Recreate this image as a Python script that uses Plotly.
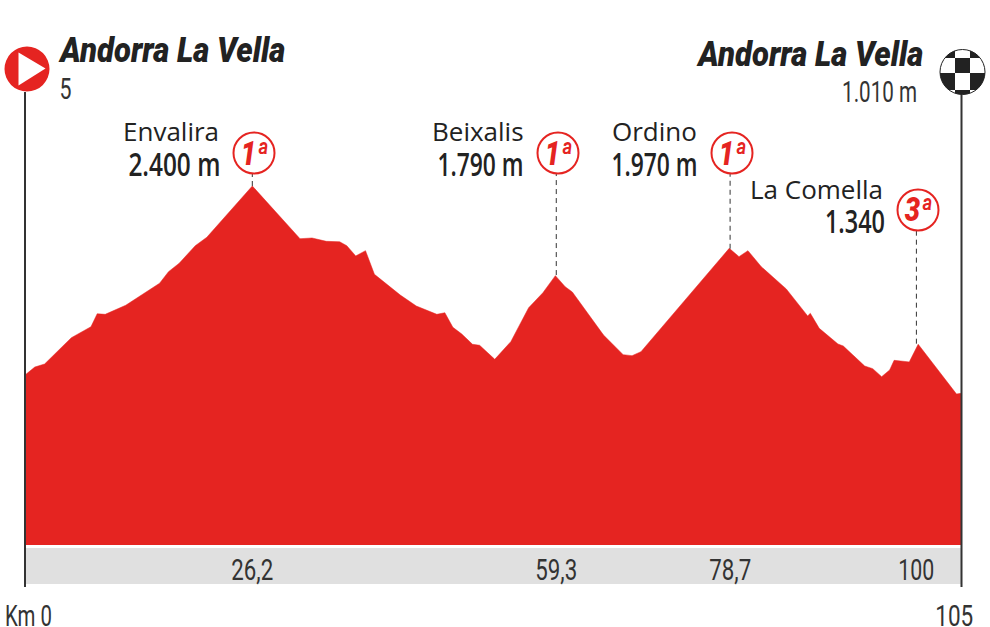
import json
import numpy as np
import plotly.graph_objects as go

km = [0, 1.1, 2.2, 5.2, 7.4, 8.1, 9.0, 11.3, 15.1, 16.1, 17.3, 19.1, 20.4, 25.5, 30.85, 32.2, 33.8, 35.3, 36.1, 37.1,
      38.2, 39.2, 42.1, 43.9, 46.2, 47.1, 48.0, 49.0, 50.2, 51.0, 52.7, 54.5, 56.5, 58.1, 59.5, 60.6, 61.4, 64.9,
      67.1, 68.1, 69.1, 79.0, 80.1, 81.1, 82.6, 85.4, 87.8, 88.1, 89.1, 91.2, 91.8, 94.2, 95.1, 96.1, 97.0, 97.5,
      99.2, 100.2, 104.5, 105]
alt = [1105, 1160, 1181, 1361, 1436, 1525, 1521, 1583, 1734, 1813, 1871, 1991, 2049, 2400, 2039, 2044, 2021, 2018, 1991, 1921,
       1957, 1795, 1653, 1578, 1521, 1532, 1432, 1386, 1316, 1309, 1213, 1334, 1566, 1669, 1786, 1710, 1674, 1379,
       1245, 1238, 1265, 1973, 1916, 1957, 1847, 1695, 1510, 1528, 1425, 1318, 1304, 1167, 1149, 1094, 1140, 1206,
       1195, 1316, 975, 980]
climb_names = ["Envalira", "Beixalis", "Ordino", "La Comella"]
climb_heights = ["2.400 m", "1.790 m", "1.970 m", "1.340"]
climb_cats = ["1ª", "1ª", "1ª", "3ª"]
climb_km = [25.5, 59.6, 79.1, 100.0]
climb_alt = [2400, 1790, 1970, 1320]
km_labels = ["26,2", "59,3", "78,7", "100"]
km_label_pos = [25.5, 59.6, 79.1, 100.0]

W, H = 990, 627
RED, DARK, GREY = "#e52421", "#222222", "#e0e0e0"
COND = "Roboto"
OPEN = "Open Sans"
PX_KM = 8.914
PX_M = 0.146
to_km = lambda x: (x - 25) / PX_KM
to_alt = lambda y: 2400 - (y - 186) / PX_M
px = lambda x: x / W
py = lambda y: 1 - y / H

fig = go.Figure()
base = to_alt(545)
fig.add_trace(go.Scatter(x=[0, 105], y=[base, base], mode="lines", line=dict(width=0, color=RED),
                         hoverinfo="skip", showlegend=False))
fig.add_trace(go.Scatter(x=km, y=alt, mode="lines", line=dict(width=0.5, color=RED), fill="tonexty",
                         fillcolor=RED, showlegend=False))

shapes = []
shapes.append(dict(type="rect", xref="x", yref="y", x0=0, x1=105, y0=to_alt(584), y1=to_alt(548),
                   fillcolor=GREY, line_width=0, layer="below"))
for x in (25, 961.5):
    shapes.append(dict(type="line", xref="paper", yref="paper", x0=px(x), x1=px(x), y0=py(92), y1=py(587),
                       line=dict(color="#333333", width=2)))

badges = [(254, 153), (558, 153), (732, 153), (918, 210)]
for (bx, by), k, a in zip(badges, climb_km, climb_alt):
    shapes.append(dict(type="line", xref="x", yref="y", x0=k, x1=k, y0=a, y1=to_alt(by + 20),
                       line=dict(color="#333333", width=1, dash="5px,4px")))


def circle_shape(cx, cy, r, fill, line_color=None, lw=0):
    return dict(type="circle", xref="paper", yref="paper", x0=px(cx - r), x1=px(cx + r), y0=py(cy + r), y1=py(cy - r),
                fillcolor=fill, line=dict(color=line_color or fill, width=lw))


for bx, by in badges:
    shapes.append(circle_shape(bx, by, 20.5, "white", RED, 2))

shapes.append(circle_shape(27, 69, 22.5, RED))
shapes.append(dict(type="path", xref="paper", yref="paper",
                   path=f"M{px(18.5)},{py(52.5)} L{px(45.5)},{py(68.5)} L{px(18.5)},{py(85.5)} Z",
                   fillcolor="white", line_width=0))


def clipped_rect(x0, x1, y0, y1, cx, cy, r):
    t = np.linspace(0, 2 * np.pi, 96, endpoint=False)
    pts = [(cx + r * np.cos(a), cy + r * np.sin(a)) for a in t]
    def clip(poly, inside, inter):
        out = []
        for i, p in enumerate(poly):
            q = poly[i - 1]
            if inside(p):
                if not inside(q):
                    out.append(inter(q, p))
                out.append(p)
            elif inside(q):
                out.append(inter(q, p))
        return out
    def ix(v):
        return lambda a, b: (v, a[1] + (b[1] - a[1]) * (v - a[0]) / (b[0] - a[0]))
    def iy(v):
        return lambda a, b: (a[0] + (b[0] - a[0]) * (v - a[1]) / (b[1] - a[1]), v)
    pts = clip(pts, lambda p: p[0] >= x0, ix(x0))
    pts = clip(pts, lambda p: p[0] <= x1, ix(x1))
    pts = clip(pts, lambda p: p[1] >= y0, iy(y0))
    pts = clip(pts, lambda p: p[1] <= y1, iy(y1))
    return "M" + " L".join(f"{px(a):.5f},{py(b):.5f}" for a, b in pts) + " Z"


FX, FY, FR = 962.5, 72, 22.5
shapes.append(circle_shape(FX, FY, FR, "white", DARK, 1))
for r_ in [(940, 955, 49, 58), (970, 986, 49, 58), (955, 970, 58, 73), (940, 955, 73, 90), (970, 986, 73, 90),
           (955, 970, 90, 95)]:
    shapes.append(dict(type="path", xref="paper", yref="paper", path=clipped_rect(*r_, FX, FY, FR),
                       fillcolor=DARK, line_width=0))

ann = []
text_widths = {}


def text(x, y, s, size, font=COND, color=DARK, weight=400, style="normal", width=None, xref="paper"):
    ann.append(dict(xref=xref, yref="paper", x=px(x) if xref == "paper" else x, y=py(y), text=s, showarrow=False,
                    xanchor="center", yanchor="middle",
                    font=dict(family=font, size=size, color=color, weight=weight, style=style)))
    if width:
        text_widths[s] = width


text(171.5, 50, "Andorra La Vella", 35, weight=900, style="italic", width=225)
text(809, 54, "Andorra La Vella", 35, weight=900, style="italic", width=225)
text(65, 88, "5", 30, color="#333333", width=12)
text(879.5, 92, "1.010 m", 30, color="#333333", width=75)

name_c = [(171, 131), (477.5, 131), (654, 131), (816.5, 189)]
name_fs = 26
height_c = [(174, 163), (480.5, 163), (654.5, 163), (854.5, 220)]
height_w = [92, 86, 86, 60]
for n, h, nc, hc, hw in zip(climb_names, climb_heights, name_c, height_c, height_w):
    text(nc[0], nc[1], n, name_fs, OPEN, "#222222")
    text(hc[0], hc[1], h, 32, OPEN, "#222222", weight=600, width=hw)
for (bx, by), c in zip(badges, climb_cats):
    text(bx, by, c, 33, COND, RED, weight=900, style="italic", width=27)
for k, s, w in zip(km_label_pos, km_labels, [42, 42, 42, 36]):
    text(k, 569, s, 30, color="#333333", width=w, xref="x")
text(28.5, 615, "Km 0", 30, color="#333333", width=47)
text(954.5, 615, "105", 30, color="#333333", width=38)

fig.update_layout(width=W, height=H, margin=dict(l=0, r=0, t=0, b=0), paper_bgcolor="white", plot_bgcolor="white",
                  showlegend=False, shapes=shapes, annotations=ann,
                  xaxis=dict(range=[to_km(0), to_km(W)], visible=False, fixedrange=True),
                  yaxis=dict(range=[to_alt(H), to_alt(0)], visible=False, fixedrange=True))

post = """
document.body.style.margin = '0';
var widths = %s;
function squeeze() {
  document.querySelectorAll('text.annotation-text').forEach(function (t) {
    var w = widths[t.textContent];
    if (w) {
      t.setAttribute('textLength', w);
      t.setAttribute('lengthAdjust', 'spacingAndGlyphs');
      var g = t.parentNode, r = g && g.querySelector('rect.bg');
      if (r) {
        var ow = parseFloat(r.getAttribute('width')) || w, ox = parseFloat(r.getAttribute('x')) || 0;
        if (ow > w) { r.setAttribute('x', ox + (ow - w) / 2); r.setAttribute('width', w); }
      }
    }
  });
}
squeeze();
setTimeout(squeeze, 50);
""" % json.dumps(text_widths, ensure_ascii=False)
fig.write_html("out.html", config=dict(displayModeBar=False), default_width=W, default_height=H, post_script=post)
